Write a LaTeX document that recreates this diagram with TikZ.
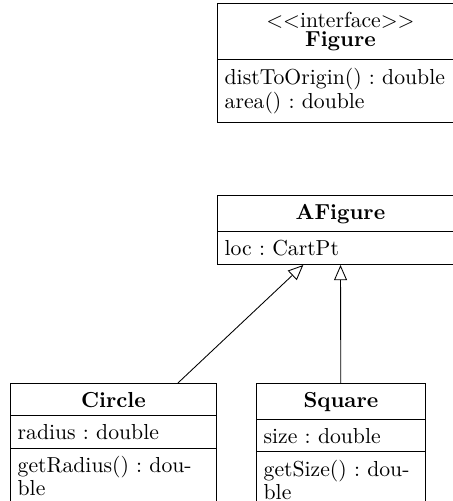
\documentclass[tikz,border=0pt]{standalone}
\usetikzlibrary{shapes.multipart,arrows.meta}
\frenchspacing
\begin{document}
\begin{tikzpicture}[x=0.4608pt, y=-0.4608pt,
        umlbox/.style={draw, rectangle split, rectangle split parts=3,
            anchor=north west, inner xsep=3.33pt, inner ysep=3.7pt,
            font=\fontsize{10pt}{9pt}\selectfont},
        inherit/.style={-{Triangle[open,length=7pt,width=6pt]}}]
        \useasboundingbox (0,0) rectangle (453,501);
        % Interface and abstract class (run off the right edge)
        \node[umlbox, rectangle split parts=2, text width=106.7pt] (figure) at (217,3)
            {\centering $<<$interface$>>$\\ \textbf{Figure}\par
             \nodepart{second}distToOrigin() : double\\ area() : double};
        \node[umlbox, rectangle split parts=2, text width=106.7pt] (afigure) at (217,195)
            {\centering\textbf{AFigure}\par
             \nodepart{second}loc : CartPt};
        % Concrete classes
        \node[umlbox, text width=88.3pt] (circle) at (10,383)
            {\centering\textbf{Circle}\par
             \nodepart{second}radius : double
             \nodepart{third}getRadius() : dou-\\ble};
        \node[umlbox, text width=71.2pt] (square) at (256,383)
            {\centering\textbf{Square}\par
             \nodepart{second}size : double
             \nodepart{third}getSize() : dou-\\ble};
        % Inheritance
        \draw[inherit] (circle) -- (afigure);
        \draw[inherit] (square) -- (afigure);
\end{tikzpicture}
\end{document}
